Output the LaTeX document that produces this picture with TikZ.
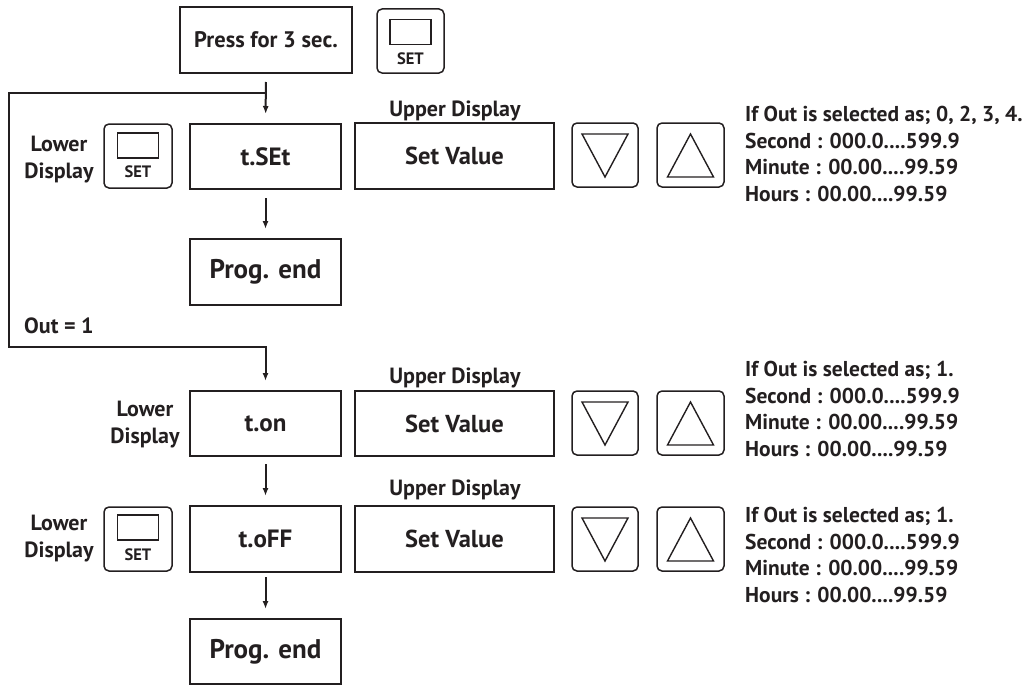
\documentclass[tikz,border=0pt]{standalone}
\usepackage{fontspec}
\setmainfont{PT Sans}
\usetikzlibrary{arrows.meta,calc}
\definecolor{ink}{HTML}{231F20}
\tikzset{
  box/.style={draw=ink, line width=2pt, minimum width=151pt, minimum height=65pt,
    inner sep=0pt, text=ink, font=\bfseries\fontsize{25}{30}\selectfont},
  valbox/.style={box, minimum width=199pt, minimum height=66pt, font=\bfseries\fontsize{24.5}{28}\selectfont},
  btn/.style={draw=ink, line width=1.5pt, rounded corners=5pt, minimum width=67pt,
    minimum height=64pt, inner sep=0pt},
  keyin/.style={draw=ink, line width=1.5pt, minimum width=41pt, minimum height=25pt, inner sep=0pt},
  keytxt/.style={text=ink, inner sep=0pt, font=\bfseries\fontsize{16.5}{18}\selectfont},
  tri/.style={draw=ink, line width=1.4pt, line join=miter},
  lbl/.style={text=ink, inner sep=0pt, font=\bfseries\fontsize{22}{27}\selectfont, align=center},
  info/.style={text=ink, inner sep=0pt, font=\bfseries\fontsize{21.5}{26.5}\selectfont, align=left, anchor=north west},
  conn/.style={draw=ink, line width=2pt},
  arr/.style={conn, -{Latex[length=8pt,width=6pt]}, shorten >=9pt, shorten <=8pt},
}
\begin{document}
\begin{tikzpicture}[x=1pt,y=-1pt]
\useasboundingbox (0,0) rectangle (1030,685);

% top
\node[box, minimum width=172pt, minimum height=66pt, font=\bfseries\fontsize{22.5}{25}\selectfont] (press) at (266,40) {Press for 3 sec.};
\node[btn] (kTop) at (410.5,41) {};
\node[keyin] (kTopIn) at ($(kTop.north)+(0,24)$) {};
\node[keytxt] (kTopTx) at ($(kTop.north)+(0,50)$) {SET};

% row 1
\node[box] (tset) at (265.5,156.5) {t.SEt};
\node[valbox] (sv1) at (454.5,156) {Set Value};
\node[lbl, anchor=base] (ud1) at (455,116) {Upper Display};
\node[btn, minimum width=66pt] (dn1) at (605,155) {};
\node[btn] (up1) at (690.5,155) {};
\node[btn, minimum width=68pt] (kL1) at (138,156) {};
\node[keyin] (kL1In) at ($(kL1.north)+(0,22)$) {};
\node[keytxt] (kL1Tx) at ($(kL1.north)+(0,48)$) {SET};
\node[lbl, anchor=north] (ld1) at (59,136) {Lower\\Display};
\node[info] (inf1) at (745,106) {If Out is selected as; 0, 2, 3, 4.\\Second : 000.0....599.9\\Minute : 00.00....99.59\\Hours : 00.00....99.59};

\node[box, minimum height=66pt, font=\bfseries\fontsize{27}{30}\selectfont] (pe1) at (265.5,272) {Prog. end};

\node[lbl, anchor=base west] (out1) at (24,333) {Out = 1};

% row 2
\node[box] (ton) at (265.5,423.5) {t.on};
\node[valbox, minimum height=65pt] (sv2) at (454.5,423.5) {Set Value};
\node[lbl, anchor=base] (ud2) at (455,383) {Upper Display};
\node[btn, minimum width=66pt] (dn2) at (605,423) {};
\node[btn] (up2) at (690.5,423) {};
\node[lbl, anchor=north] (ld2) at (145,401) {Lower\\Display};
\node[info] (inf2) at (745,361) {If Out is selected as; 1.\\Second : 000.0....599.9\\Minute : 00.00....99.59\\Hours : 00.00....99.59};

% row 3
\node[box, minimum height=66pt] (toff) at (265.5,539) {t.oFF};
\node[valbox] (sv3) at (454.5,539) {Set Value};
\node[lbl, anchor=base] (ud3) at (455,495) {Upper Display};
\node[btn, minimum width=66pt] (dn3) at (605,539) {};
\node[btn] (up3) at (690.5,539) {};
\node[btn, minimum width=68pt] (kL3) at (138,539) {};
\node[keyin] (kL3In) at ($(kL3.north)+(0,21)$) {};
\node[keytxt] (kL3Tx) at ($(kL3.north)+(0,48)$) {SET};
\node[lbl, anchor=north] (ld3) at (59,515) {Lower\\Display};
\node[info] (inf3) at (745,507) {If Out is selected as; 1.\\Second : 000.0....599.9\\Minute : 00.00....99.59\\Hours : 00.00....99.59};

\node[box, font=\bfseries\fontsize{27}{30}\selectfont] (pe2) at (265.5,651.5) {Prog. end};

% triangles
\foreach \b in {dn1,dn2,dn3}{
  \draw[tri] ($(\b.center)+(-23,-21)$) -- ($(\b.center)+(23,-21)$) -- ($(\b.center)+(0,22)$) -- cycle;
}
\foreach \b in {up1,up2,up3}{
  \draw[tri] ($(\b.center)+(-23,22)$) -- ($(\b.center)+(23,22)$) -- ($(\b.center)+(0,-21)$) -- cycle;
}

% connectors
\coordinate (j1) at (265.5,93);
\coordinate (c1) at (9,93);
\coordinate (c2) at (265.5,347);
\draw[arr] (press) -- (tset);
\draw[conn, -{Latex[length=8pt,width=6pt]}, shorten >=9pt] (j1) -- (c1) |- (c2) -- (ton);
\draw[arr] (tset) -- (pe1);
\draw[arr, shorten <=7pt] (ton) -- (toff);
\draw[arr, shorten <=4pt] (toff) -- (pe2);
\end{tikzpicture}
\end{document}
